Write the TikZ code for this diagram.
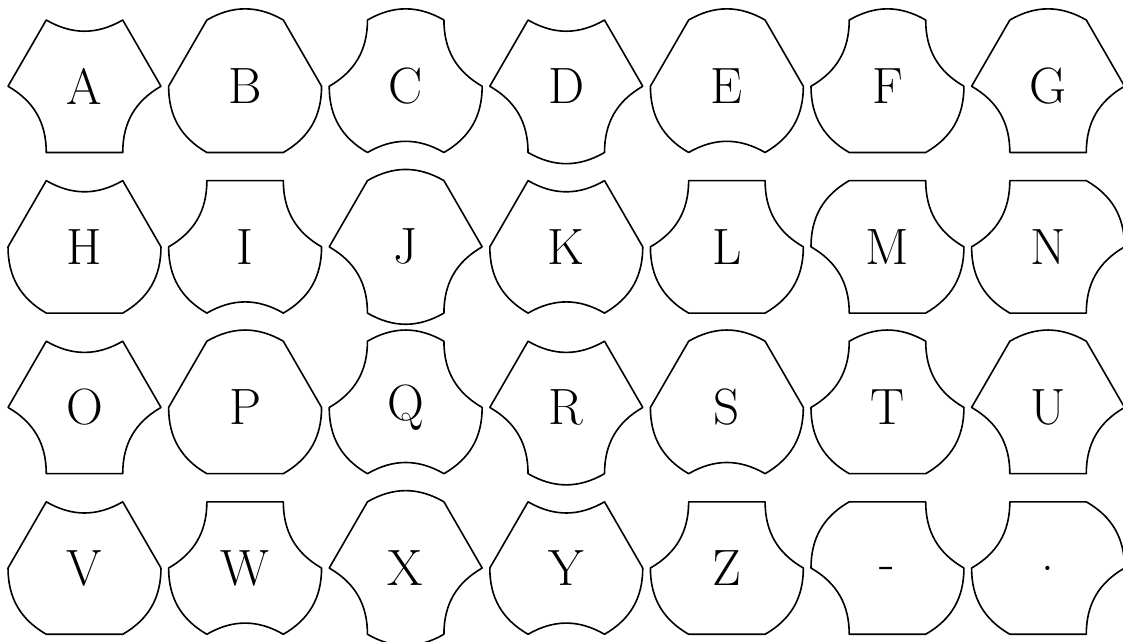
\documentclass[tikz,border=0pt]{standalone}
\usepackage{tikz}
\newcommand{\dashlabel}{\vphantom{x}-}

\begin{document}
\begin{tikzpicture}[
        tile/.style={semithick, line join=round},
        letter/.style={font=\fontsize{19}{23}\selectfont},
        edgeS/.style={},
        edgeO/.style={bend left=30},
        edgeI/.style={bend right=30}
        ]
        \useasboundingbox (-1.105,-7.266) rectangle (13.58,1.128);
        % label/column/row, then edges: top, upper right, lower right, bottom, lower left, upper left
        \foreach \lab/\c/\r/\ta/\tb/\tc/\td/\te/\tf [count=\n] in {%
            A/0/0/I/S/I/S/I/S, B/1/0/O/S/O/S/O/S, C/2/0/O/I/O/I/O/I, D/3/0/I/S/I/O/I/S,
            E/4/0/O/S/O/I/O/S, F/5/0/O/I/O/S/O/I, G/6/0/O/S/I/S/I/S,
            H/0/1/I/S/O/S/O/S, I/1/1/S/I/O/I/O/I, J/2/1/O/S/I/O/I/S, K/3/1/I/S/O/I/O/S,
            L/4/1/S/I/O/S/O/I, M/5/1/S/I/O/S/I/O, N/6/1/S/O/I/S/O/I,
            O/0/2/I/S/I/S/I/S, P/1/2/O/S/O/S/O/S, Q/2/2/O/I/O/I/O/I, R/3/2/I/S/I/O/I/S,
            S/4/2/O/S/O/I/O/S, T/5/2/O/I/O/S/O/I, U/6/2/O/S/I/S/I/S,
            V/0/3/I/S/O/S/O/S, W/1/3/S/I/O/I/O/I, X/2/3/O/S/I/O/I/S, Y/3/3/I/S/O/I/O/S,
            Z/4/3/S/I/O/S/O/I, \dashlabel/5/3/S/I/O/S/I/O, ./6/3/S/O/I/S/O/I%
        }{
            \begin{scope}[shift={(2.1*\c,-2.1*\r)}]
                \node[letter] (tile\n) at (0,0) {\lab};
                \draw[tile] (120:1) to[edge\ta] (60:1) to[edge\tb] (0:1) to[edge\tc] (-60:1)
                    to[edge\td] (-120:1) to[edge\te] (180:1) to[edge\tf] (120:1) -- cycle;
            \end{scope}
        }
    \end{tikzpicture}
\end{document}
